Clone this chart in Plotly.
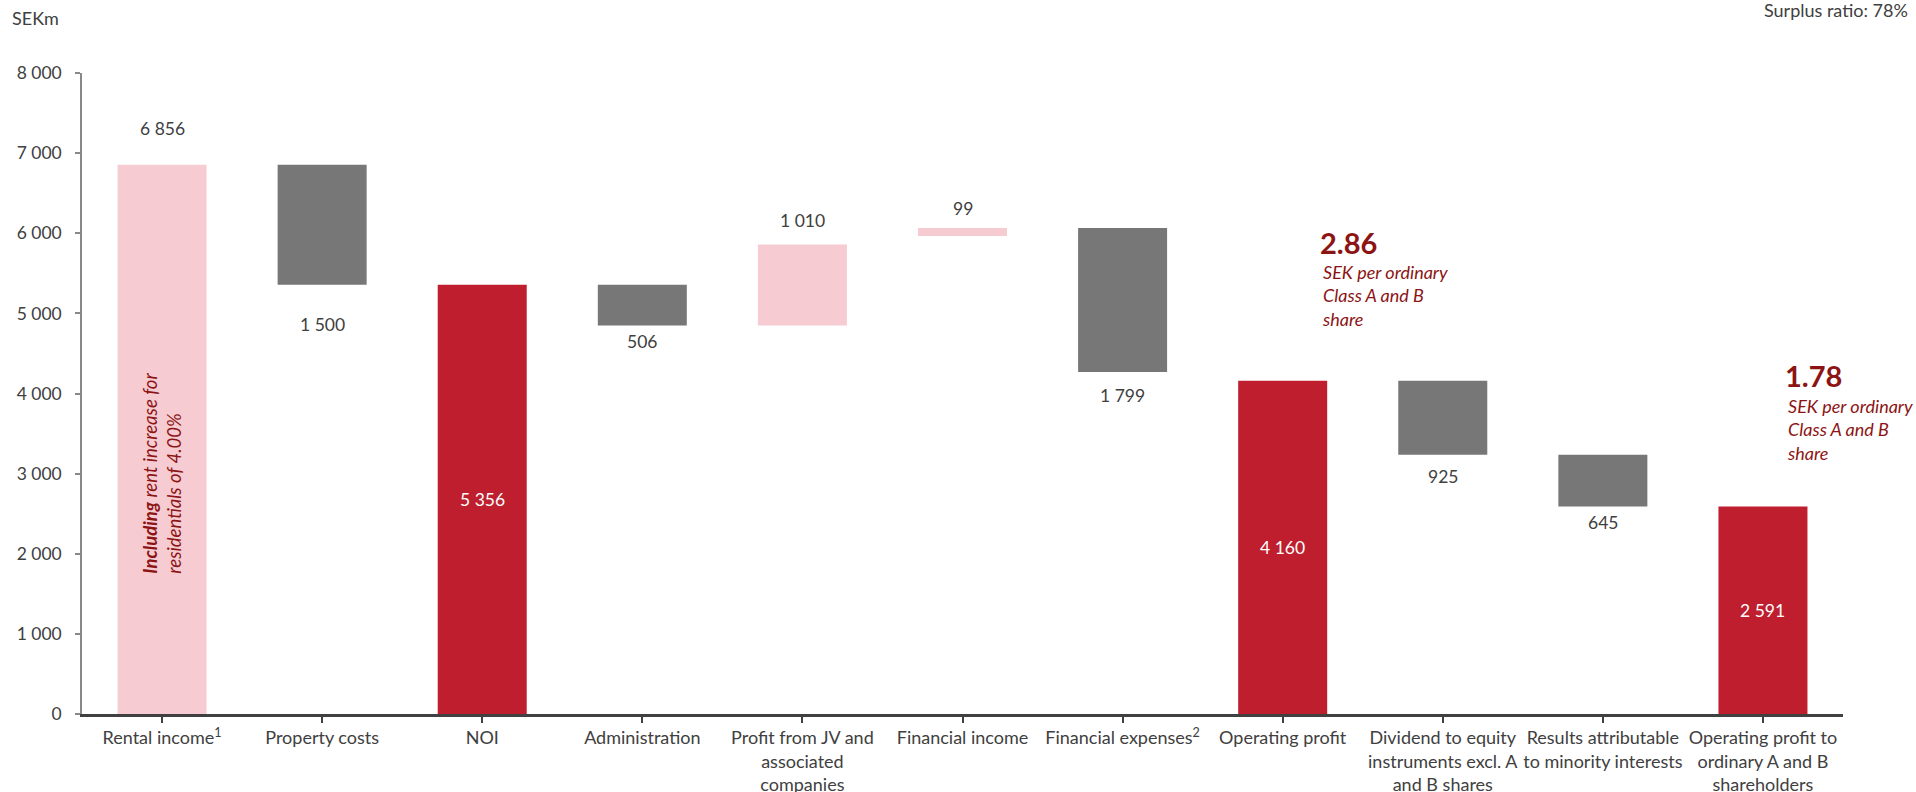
import plotly.graph_objects as go

# ---- data ----
categories = [
    "Rental income<sup>1</sup>",
    "Property costs",
    "NOI",
    "Administration",
    "Profit from JV and<br>associated<br>companies",
    "Financial income",
    "Financial expenses<sup>2</sup>",
    "Operating profit",
    "Dividend to equity<br>instruments excl. A<br>and B shares",
    "Results attributable<br>to minority interests",
    "Operating profit to<br>ordinary A and B<br>shareholders",
]
values = [6856, 1500, 5356, 506, 1010, 99, 1799, 4160, 925, 645, 2591]
bases = [0, 5356, 0, 4850, 4850, 5967, 4268, 0, 3235, 2590, 0]
kinds = ["inc", "dec", "total", "dec", "inc", "inc", "dec", "total", "dec", "dec", "total"]
eps_values = ["2.86", "1.78"]
eps_categories = [7, 10]

# ---- styles ----
colors = {"inc": "#F6CCD2", "dec": "#777777", "total": "#BE1E2D"}
label_shift = [36, 40, 0, 16, 24, 19, 23, 0, 22, 16, 0]
FONT = "Lato, 'Open Sans', sans-serif"
TXT = "#404040"
DARKRED = "#8C1414"
NUM = 17.5

fig = go.Figure()
fig.add_trace(go.Bar(
    x=list(range(len(categories))),
    y=values,
    base=bases,
    width=0.556,
    marker=dict(color=[colors[k] for k in kinds], line=dict(width=0)),
    hoverinfo="skip",
))

def fmt(v):
    return f"{v:,}".replace(",", " ")

ann = []
for i, (v, b, k) in enumerate(zip(values, bases, kinds)):
    if k == "inc":
        ann.append(dict(x=i, y=b + v, text=fmt(v), showarrow=False, yanchor="middle",
                        yshift=label_shift[i], font=dict(size=NUM, color=TXT, family=FONT)))
    elif k == "dec":
        ann.append(dict(x=i, y=b, text=fmt(v), showarrow=False, yanchor="middle",
                        yshift=-label_shift[i], font=dict(size=NUM, color=TXT, family=FONT)))
    else:
        ann.append(dict(x=i, y=b + v / 2, text=fmt(v), showarrow=False, yanchor="middle",
                        font=dict(size=NUM, color="white", family=FONT)))

# rotated note inside rental income bar
ann.append(dict(x=0, y=3000, textangle=-90, showarrow=False, align="left",
                text="<b><i>Including</i></b><i> rent increase for</i><br><i>residentials of 4.00%</i>",
                font=dict(size=18.5, color=DARKRED, family=FONT)))

# EPS annotations
eps_pos = [(37, 5880, 5218), (22, 4225, 3552)]
for (val, cat), (dx, ynum, ytxt) in zip(zip(eps_values, eps_categories), eps_pos):
    ann.append(dict(x=cat, y=ynum, xanchor="left", yanchor="middle", xshift=dx - 2, showarrow=False,
                    text=f"<b>{val}</b>", font=dict(size=29, color=DARKRED, family=FONT)))
    ann.append(dict(x=cat, y=ytxt, xanchor="left", yanchor="middle", xshift=dx, showarrow=False,
                    align="left",
                    text="<i>SEK per ordinary<br>Class A and B<br>share</i>",
                    font=dict(size=18, color=DARKRED, family=FONT)))

ann.append(dict(xref="paper", yref="paper", x=-0.0409, y=1.0, xanchor="left", yanchor="bottom",
                yshift=42, text="SEKm", showarrow=False, font=dict(size=18, color=TXT, family=FONT)))
ann.append(dict(xref="paper", yref="paper", x=1.0, y=1.0, xanchor="right", yanchor="bottom",
                xshift=67, yshift=50, text="Surplus ratio: 78%", showarrow=False,
                font=dict(size=18, color=TXT, family=FONT)))

fig.update_layout(
    width=1916, height=792,
    margin=dict(l=82, r=73, t=73, b=78, autoexpand=False),
    plot_bgcolor="white", paper_bgcolor="white",
    showlegend=False,
    separators=". ",
    font=dict(family=FONT, size=18, color=TXT),
    annotations=ann,
    xaxis=dict(
        tickmode="array", tickvals=list(range(len(categories))), ticktext=categories,
        range=[-0.5, len(categories) - 0.5],
        automargin=False,
        showline=True, linecolor="#404040", linewidth=2.5,
        ticks="outside", tickson="boundaries", ticklen=6, tickwidth=2, tickcolor="#404040",
        showgrid=False, zeroline=False, tickangle=0,
        tickfont=dict(size=18, color=TXT, family=FONT),
    ),
    yaxis=dict(
        range=[0, 8000], dtick=1000, tickformat=",d",
        automargin=False,
        showline=True, linecolor="#898989", linewidth=1.5,
        ticks="outside", ticklen=5, tickcolor="#898989", tickwidth=1.5,
        showgrid=False, zeroline=False,
        ticklabelstandoff=10,
        tickfont=dict(size=NUM, color=TXT, family=FONT),
    ),
)

fig.write_html("out.html")
